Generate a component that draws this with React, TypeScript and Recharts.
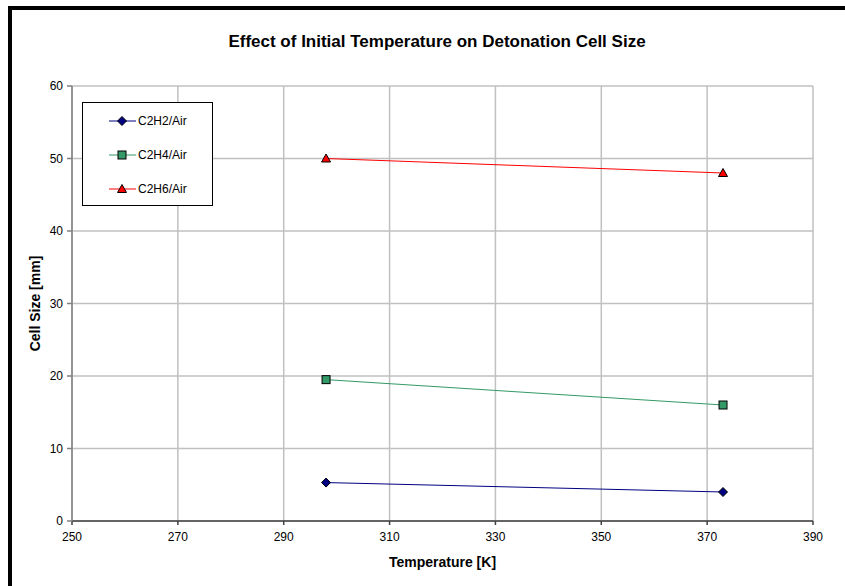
import { LineChart, Line, XAxis, YAxis, CartesianGrid, Label } from 'recharts';

const temperatures = [298, 373];
const c2h2 = [5.3, 4.0];
const c2h4 = [19.5, 16.0];
const c2h6 = [50.0, 48.0];
const xTicks = [250, 270, 290, 310, 330, 350, 370, 390];
const yTicks = [0, 10, 20, 30, 40, 50, 60];

const data = temperatures.map((t, i) => ({
  t,
  c2h2: c2h2[i],
  c2h4: c2h4[i],
  c2h6: c2h6[i],
}));

const FONT = '"Liberation Sans", Arial, sans-serif';

const series = [
  { key: 'c2h2', name: 'C2H2/Air', color: '#000080', fill: '#000080', shape: 'diamond' },
  { key: 'c2h4', name: 'C2H4/Air', color: '#339966', fill: '#339966', shape: 'square' },
  { key: 'c2h6', name: 'C2H6/Air', color: '#ff0000', fill: '#ff0000', shape: 'triangle' },
];

function Marker({ cx, cy, shape, fill }: { cx: number; cy: number; shape: string; fill: string }) {
  if (shape === 'diamond') {
    return (
      <path
        d={`M${cx},${cy - 4.5}L${cx + 4.5},${cy}L${cx},${cy + 4.5}L${cx - 4.5},${cy}Z`}
        fill={fill}
        stroke="#000000"
        strokeWidth={1}
      />
    );
  }
  if (shape === 'square') {
    return <rect x={cx - 4} y={cy - 4} width={8} height={8} fill={fill} stroke="#000000" strokeWidth={1} />;
  }
  return (
    <path
      d={`M${cx},${cy - 4.5}L${cx + 4.5},${cy + 3.5}L${cx - 4.5},${cy + 3.5}Z`}
      fill={fill}
      stroke="#000000"
      strokeWidth={1}
    />
  );
}

// legend drawn as a plain box over the plot, like the excel original
function LegendBox() {
  return (
    <div
      style={{
        position: 'absolute',
        left: 82,
        top: 102,
        width: 131,
        height: 104,
        border: '1px solid #000',
        background: '#fff',
        boxSizing: 'border-box',
        paddingTop: 1,
        fontFamily: FONT,
        fontSize: 12,
      }}
    >
      {series.map((s) => (
        <div key={s.key} style={{ display: 'flex', alignItems: 'center', height: 34 }}>
          <svg width={55} height={12}>
            <line x1={26} x2={53} y1={6} y2={6} stroke={s.color} strokeWidth={1} />
            <Marker cx={39} cy={6} shape={s.shape} fill={s.fill} />
          </svg>
          <span>{s.name}</span>
        </div>
      ))}
    </div>
  );
}

export default function App() {
  return (
    <div style={{ position: 'absolute', left: 0, top: 0, width: 845, height: 586, background: '#fff', overflow: 'hidden' }}>
      <div
        style={{
          position: 'absolute',
          left: 8,
          top: 6,
          width: 900,
          height: 700,
          borderLeft: '4px solid #000',
          borderTop: '4px solid #000',
        }}
      />
      <div
        style={{
          position: 'absolute',
          left: 0,
          top: 32,
          width: 874,
          textAlign: 'center',
          fontFamily: FONT,
          fontWeight: 'bold',
          fontSize: 17,
        }}
      >
        Effect of Initial Temperature on Detonation Cell Size
      </div>
      <LineChart
        width={845}
        height={586}
        data={data}
        margin={{ top: 86, right: 32, left: 12, bottom: 14 }}
        style={{ position: 'absolute', left: 0, top: 0, fontFamily: FONT }}
      >
        <CartesianGrid stroke="#c0c0c0" strokeWidth={1.5} />
        <XAxis
          dataKey="t"
          type="number"
          domain={[250, 390]}
          ticks={xTicks}
          interval={0}
          height={51}
          tickSize={4}
          tickMargin={7}
          stroke="#404040"
          strokeWidth={1.5}
          tick={{ fill: '#000', fontSize: 12 }}
        >
          <Label
            value="Temperature [K]"
            position="insideBottom"
            offset={5}
            style={{ fontWeight: 'bold', fontSize: 14, fill: '#000' }}
          />
        </XAxis>
        <YAxis
          type="number"
          domain={[0, 60]}
          ticks={yTicks}
          interval={0}
          width={60}
          tickSize={5}
          tickMargin={4}
          stroke="#808080"
          strokeWidth={1.5}
          tick={{ fill: '#000', fontSize: 12 }}
        >
          <Label
            value="Cell Size [mm]"
            angle={-90}
            position="center"
            dx={-7}
            style={{ fontWeight: 'bold', fontSize: 14, fill: '#000', textAnchor: 'middle' }}
          />
        </YAxis>
        {series.map((s) => (
          <Line
            key={s.key}
            type="linear"
            dataKey={s.key}
            name={s.name}
            stroke={s.color}
            strokeWidth={1}
            isAnimationActive={false}
            dot={(p: any) => <Marker key={`${s.key}-${p.index}`} cx={p.cx} cy={p.cy} shape={s.shape} fill={s.fill} />}
            activeDot={false}
          />
        ))}
      </LineChart>
      <LegendBox />
    </div>
  );
}
